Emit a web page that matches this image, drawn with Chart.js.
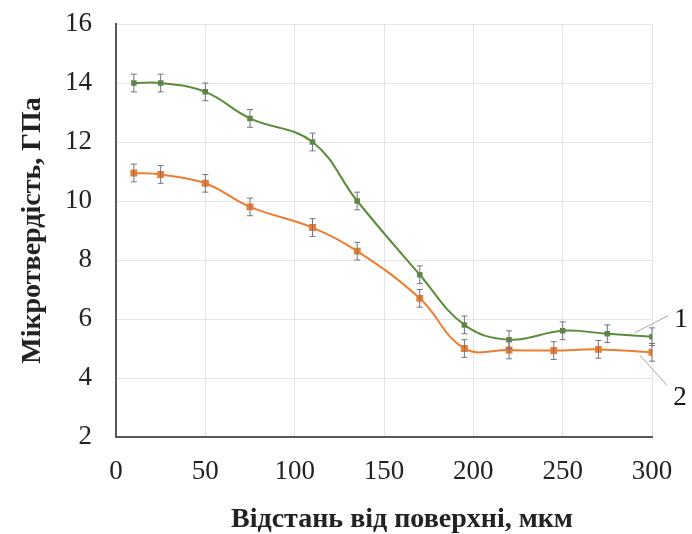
<!DOCTYPE html>
<html>
<head>
<meta charset="utf-8">
<script src="https://cdn.jsdelivr.net/npm/chart.js@4.4.1/dist/chart.umd.min.js"></script>
<style>
  body { margin: 0; background: #fff; }
</style>
</head>
<body>
<canvas id="chart" width="692" height="534"></canvas>
<script>
// curve 1 (green) and curve 2 (orange)
const distance1 = [10, 25, 50, 75, 110, 135, 170, 195, 220, 250, 275, 300];
const hardness1 = [14.0, 14.0, 13.7, 12.8, 12.0, 10.0, 7.5, 5.8, 5.3, 5.6, 5.5, 5.4];
const error1 = [0.3, 0.3, 0.3, 0.3, 0.3, 0.3, 0.3, 0.3, 0.3, 0.3, 0.3, 0.3];

const distance2 = [10, 25, 50, 75, 110, 135, 170, 195, 220, 245, 270, 300];
const hardness2 = [10.95, 10.9, 10.6, 9.8, 9.1, 8.3, 6.7, 5.0, 4.95, 4.93, 4.97, 4.87];
const error2 = [0.3, 0.3, 0.3, 0.3, 0.3, 0.3, 0.3, 0.3, 0.3, 0.3, 0.3, 0.3];

const curveLabels = ['1', '2'];
const xTicks = [0, 50, 100, 150, 200, 250, 300];
const yTicks = [2, 4, 6, 8, 10, 12, 14, 16];
const xTitle = 'Відстань від поверхні, мкм';
const yTitle = 'Мікротвердість, ГПа';

const serif = "'Liberation Serif', 'Times New Roman', serif";
Chart.defaults.font.family = serif;

function toPoints(xs, ys) {
    return xs.map((x, i) => ({ x: x, y: ys[i] }));
}

// error bars, numbered leader labels, x axis title
const extras = {
    id: 'extras',
    afterDatasetsDraw(chart) {
        const ctx = chart.ctx;
        const yScale = chart.scales.y;
        const errs = [error1, error2];
        ctx.save();
        ctx.strokeStyle = '#737380';
        ctx.lineWidth = 1;
        chart.data.datasets.forEach((ds, di) => {
            const meta = chart.getDatasetMeta(di);
            meta.data.forEach((pt, i) => {
                const v = ds.data[i].y;
                const top = yScale.getPixelForValue(v + errs[di][i]);
                const bot = yScale.getPixelForValue(v - errs[di][i]);
                ctx.beginPath();
                ctx.moveTo(pt.x, top);
                ctx.lineTo(pt.x, bot);
                ctx.moveTo(pt.x - 3, top);
                ctx.lineTo(pt.x + 3, top);
                ctx.moveTo(pt.x - 3, bot);
                ctx.lineTo(pt.x + 3, bot);
                ctx.stroke();
            });
        });

        // leader lines from the end of each curve
        ctx.strokeStyle = '#a6a6a6';
        ctx.fillStyle = '#111';
        ctx.font = '27px ' + serif;
        ctx.textAlign = 'center';
        ctx.textBaseline = 'middle';
        const p1 = chart.getDatasetMeta(0).data[hardness1.length - 1];
        const p2 = chart.getDatasetMeta(1).data[hardness2.length - 1];
        ctx.beginPath();
        ctx.moveTo(p1.x - 17, p1.y - 4);
        ctx.lineTo(p1.x + 16, p1.y - 21);
        ctx.moveTo(p2.x - 12, p2.y + 3);
        ctx.lineTo(p2.x + 15, p2.y + 33);
        ctx.stroke();
        ctx.fillText(curveLabels[0], p1.x + 29, p1.y - 17);
        ctx.fillText(curveLabels[1], p2.x + 28, p2.y + 46);

        // x title sits a bit right of the plot centre in the original
        const area = chart.chartArea;
        ctx.font = 'bold 28px ' + serif;
        ctx.fillStyle = '#222';
        ctx.fillText(xTitle, (area.left + area.right) / 2 + 18, 520);
        ctx.restore();
    }
};

const ctx = document.getElementById('chart').getContext('2d');
const myChart = new Chart(ctx, {
    type: 'line',
    data: {
        datasets: [
            {
                label: curveLabels[0],
                data: toPoints(distance1, hardness1),
                borderColor: '#5b8c3a',
                backgroundColor: '#4f7d32',
                borderWidth: 2,
                tension: 0.4,
                pointStyle: 'rect',
                pointRadius: 2.5,
                pointHoverRadius: 2.5
            },
            {
                label: curveLabels[1],
                data: toPoints(distance2, hardness2),
                borderColor: '#ed7d31',
                backgroundColor: '#ed7d31',
                borderWidth: 2,
                tension: 0.4,
                pointStyle: 'rect',
                pointRadius: 3.5,
                pointHoverRadius: 3.5
            }
        ]
    },
    options: {
        responsive: false,
        animation: false,
        layout: {
            padding: { top: 24, right: 40, left: 0, bottom: 0 }
        },
        plugins: {
            legend: { display: false },
            tooltip: { enabled: false }
        },
        scales: {
            x: {
                type: 'linear',
                min: 0,
                max: 300,
                afterBuildTicks: scale => { scale.ticks = xTicks.map(v => ({ value: v })); },
                afterFit: scale => { scale.height = 97; },
                grid: { color: '#e4e4e4', drawTicks: false },
                border: { color: '#595959', width: 2 },
                ticks: {
                    color: '#222',
                    padding: 19,
                    font: { size: 27 }
                }
            },
            y: {
                min: 2,
                max: 16,
                afterBuildTicks: scale => { scale.ticks = yTicks.map(v => ({ value: v })); },
                afterFit: scale => {
                    scale.width = 116;
                    scale.paddingTop = 0;
                    scale.paddingBottom = 0;
                },
                grid: { color: '#e4e4e4', drawTicks: false },
                border: { color: '#595959', width: 2 },
                ticks: {
                    color: '#222',
                    padding: 24,
                    font: { size: 27 }
                },
                title: {
                    display: true,
                    text: yTitle,
                    color: '#222',
                    font: { size: 28, weight: 'bold' },
                    padding: { top: 16, bottom: 0 }
                }
            }
        }
    },
    plugins: [extras]
});
</script>
</body>
</html>
